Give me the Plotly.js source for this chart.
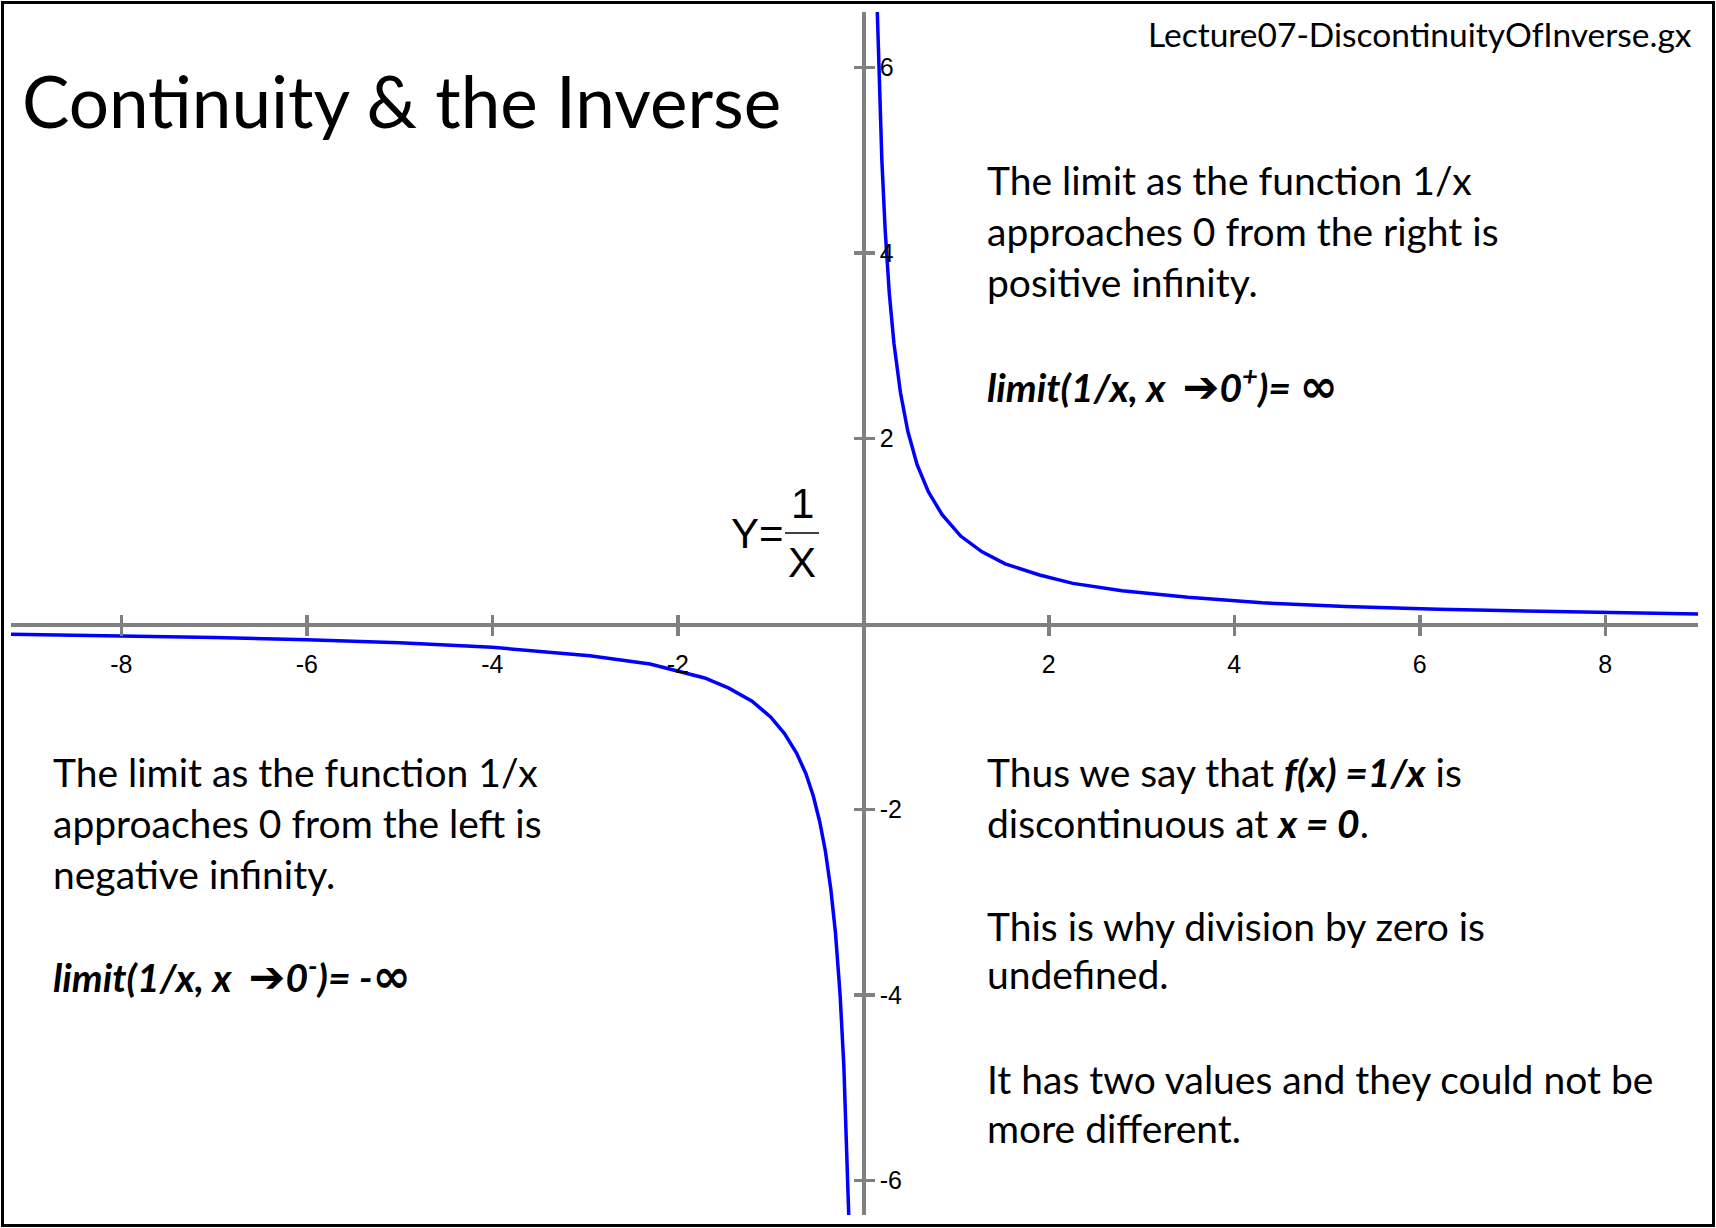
<!DOCTYPE html>
<html>
<head>
<meta charset="utf-8">
<script src="https://cdn.plot.ly/plotly-3.0.1.min.js"></script>
<style>
  html, body { margin: 0; padding: 0; background: #fff; }
  #wrap { position: relative; width: 1716px; height: 1228px; }
  #chart { position: absolute; left: 0; top: 0; width: 1716px; height: 1228px; }
  #frame { position: absolute; left: 1px; top: 1px; width: 1714px; height: 1226px;
           box-sizing: border-box; border: 3px solid #000; pointer-events: none; }
</style>
</head>
<body>
<div id="wrap"><div id="chart"></div><div id="frame"></div></div>
<script>
// ---- data ----
const xRange = [-9.19, 9.0];
const yRange = [-6.37, 6.6];
const xTickVals = [-8, -6, -4, -2, 2, 4, 6, 8];
const xTickText = ['-8', '-6', '-4', '-2', '2', '4', '6', '8'];
const yTickVals = [-6, -4, -2, 2, 4, 6];
const yTickText = ['-6', '-4', '-2', '2', '4', '6'];

// right branch of y = 1/x
const rightX = [0.151, 0.17, 0.2, 0.235, 0.28, 0.33, 0.4, 0.48, 0.58, 0.7, 0.85, 1.05, 1.28, 1.53, 1.9, 2.26, 2.79, 3.5, 4.3, 5.2, 6.2, 7.3, 8.3, 9.0];
const rightY = [6.6, 5.88, 5.0, 4.26, 3.57, 3.03, 2.5, 2.08, 1.72, 1.43, 1.18, 0.95, 0.78, 0.65, 0.53, 0.44, 0.36, 0.29, 0.23, 0.19, 0.16, 0.14, 0.12, 0.11];
// left branch
const leftX = [-9.19, -8, -7, -6, -5, -4, -2.95, -2.3, -1.71, -1.45, -1.2, -1.0, -0.85, -0.72, -0.62, -0.54, -0.47, -0.41, -0.35, -0.3, -0.25, -0.21, -0.18, -0.157];
const leftY = [-0.109, -0.125, -0.143, -0.167, -0.2, -0.25, -0.34, -0.43, -0.58, -0.69, -0.83, -1.0, -1.18, -1.39, -1.61, -1.85, -2.13, -2.44, -2.86, -3.33, -4.0, -4.76, -5.56, -6.37];

// text
const titleText = 'Continuity &amp; the Inverse';
const fileText = 'Lecture07-DiscontinuityOfInverse.gx';
const rightTopLines = ['The limit as the function 1/x', 'approaches 0 from the right is', 'positive infinity.'];
const inf = '<span style="font-family:\'DejaVu Sans\';font-size:46px">∞</span>';
const arrow = '<span style="font-family:\'DejaVu Sans\';font-size:44px">➔</span>';
const rightTopFormula = '<b><i>limit(1/x, x&nbsp;&nbsp;' + arrow + '0<sup>+</sup>)= ' + inf + '</i></b>';
const leftLines = ['The limit as the function 1/x', 'approaches 0 from the left is', 'negative infinity.'];
const leftFormula = '<b><i>limit(1/x, x&nbsp;&nbsp;' + arrow + '0<sup>-</sup>)= -' + inf + '</i></b>';
const bottomRightLines = ['Thus we say that <b><i>f(x) =1/x</i></b> is', 'discontinuous at <b><i>x = 0</i></b>.',
  'This is why division by zero is', 'undefined.', 'It has two values and they could not be', 'more different.'];

// ---- layout helpers ----
const W = 1716, H = 1228;
const M = {l: 11, r: 18, t: 12, b: 13};
const pw = W - M.l - M.r, ph = H - M.t - M.b;
const px = v => (v - M.l) / pw;
const py = v => (H - M.b - v) / ph;

const gray = '#808080';
const bodyFont = {family: 'Lato, "Open Sans", sans-serif', size: 39, color: '#000'};
const xZeroPos = -yRange[0] / (yRange[1] - yRange[0]);
const yZeroPos = -xRange[0] / (xRange[1] - xRange[0]);

const traces = [
  {x: rightX, y: rightY, mode: 'lines', line: {color: '#0000ff', width: 3.5}, hoverinfo: 'skip'},
  {x: leftX, y: leftY, mode: 'lines', line: {color: '#0000ff', width: 3.5}, hoverinfo: 'skip'},
  {x: [], y: [], xaxis: 'x2', yaxis: 'y2', mode: 'lines'}
];

const tickFont = {family: '"Liberation Sans", Arial, sans-serif', size: 25, color: '#000'};
const layout = {
  width: W, height: H,
  margin: {l: M.l, r: M.r, t: M.t, b: M.b, pad: 0},
  paper_bgcolor: '#fff', plot_bgcolor: '#fff',
  showlegend: false,
  xaxis: {range: xRange, anchor: 'free', position: xZeroPos, showline: true, linecolor: gray, linewidth: 3.5,
    ticks: 'outside', ticklen: 9, tickwidth: 3.5, tickcolor: gray, tickvals: xTickVals, ticktext: xTickText,
    tickfont: tickFont, ticklabelstandoff: 7, showgrid: false, zeroline: false, fixedrange: true},
  yaxis: {range: yRange, anchor: 'free', position: yZeroPos, side: 'right', showline: true, linecolor: gray, linewidth: 3.5,
    ticks: 'outside', ticklen: 9, tickwidth: 3.5, tickcolor: gray, tickvals: yTickVals, ticktext: yTickText,
    tickfont: tickFont, ticklabelstandoff: 0, showgrid: false, zeroline: false, fixedrange: true},
  xaxis2: {range: xRange, overlaying: 'x', anchor: 'free', position: xZeroPos, side: 'top', showline: false,
    ticks: 'outside', ticklen: 9, tickwidth: 3.5, tickcolor: gray, tickvals: xTickVals, showticklabels: false,
    showgrid: false, zeroline: false, fixedrange: true},
  yaxis2: {range: yRange, overlaying: 'y', anchor: 'free', position: yZeroPos, side: 'left', showline: false,
    ticks: 'outside', ticklen: 9, tickwidth: 3.5, tickcolor: gray, tickvals: yTickVals, showticklabels: false,
    showgrid: false, zeroline: false, fixedrange: true},
  shapes: [
    {type: 'line', xref: 'paper', yref: 'paper', x0: px(785), x1: px(819), y0: py(533), y1: py(533),
     line: {color: '#000', width: 1.5}}
  ],
  annotations: []
};

function addText(text, x, y, font, xanchor) {
  layout.annotations.push({text: text, xref: 'paper', yref: 'paper', x: px(x), y: py(y),
    xanchor: xanchor || 'left', yanchor: 'middle', showarrow: false, font: font});
}

addText(titleText, 20, 101, {family: 'Lato, "Open Sans", sans-serif', size: 71, color: '#000'});
addText(fileText, 1694, 34, {family: 'Lato, "Open Sans", sans-serif', size: 33.5, color: '#000'}, 'right');

const rtY = [180, 231, 282];
rightTopLines.forEach((t, i) => addText(t, 985, rtY[i], bodyFont));
addText(rightTopFormula, 985, 386, bodyFont);

const lY = [772, 823, 874];
leftLines.forEach((t, i) => addText(t, 51, lY[i], bodyFont));
addText(leftFormula, 51, 976, bodyFont);

const brY = [772, 823, 926, 974, 1079, 1128];
bottomRightLines.forEach((t, i) => addText(t, 985, brY[i], bodyFont));

const eqFont = {family: '"Liberation Sans", Arial, sans-serif', size: 42, color: '#000'};
addText('Y=', 729, 533, eqFont);
addText('1', 802, 503, eqFont, 'center');
addText('X', 802, 562, eqFont, 'center');

Plotly.newPlot('chart', traces, layout, {displayModeBar: false, staticPlot: true});
</script>
</body>
</html>
